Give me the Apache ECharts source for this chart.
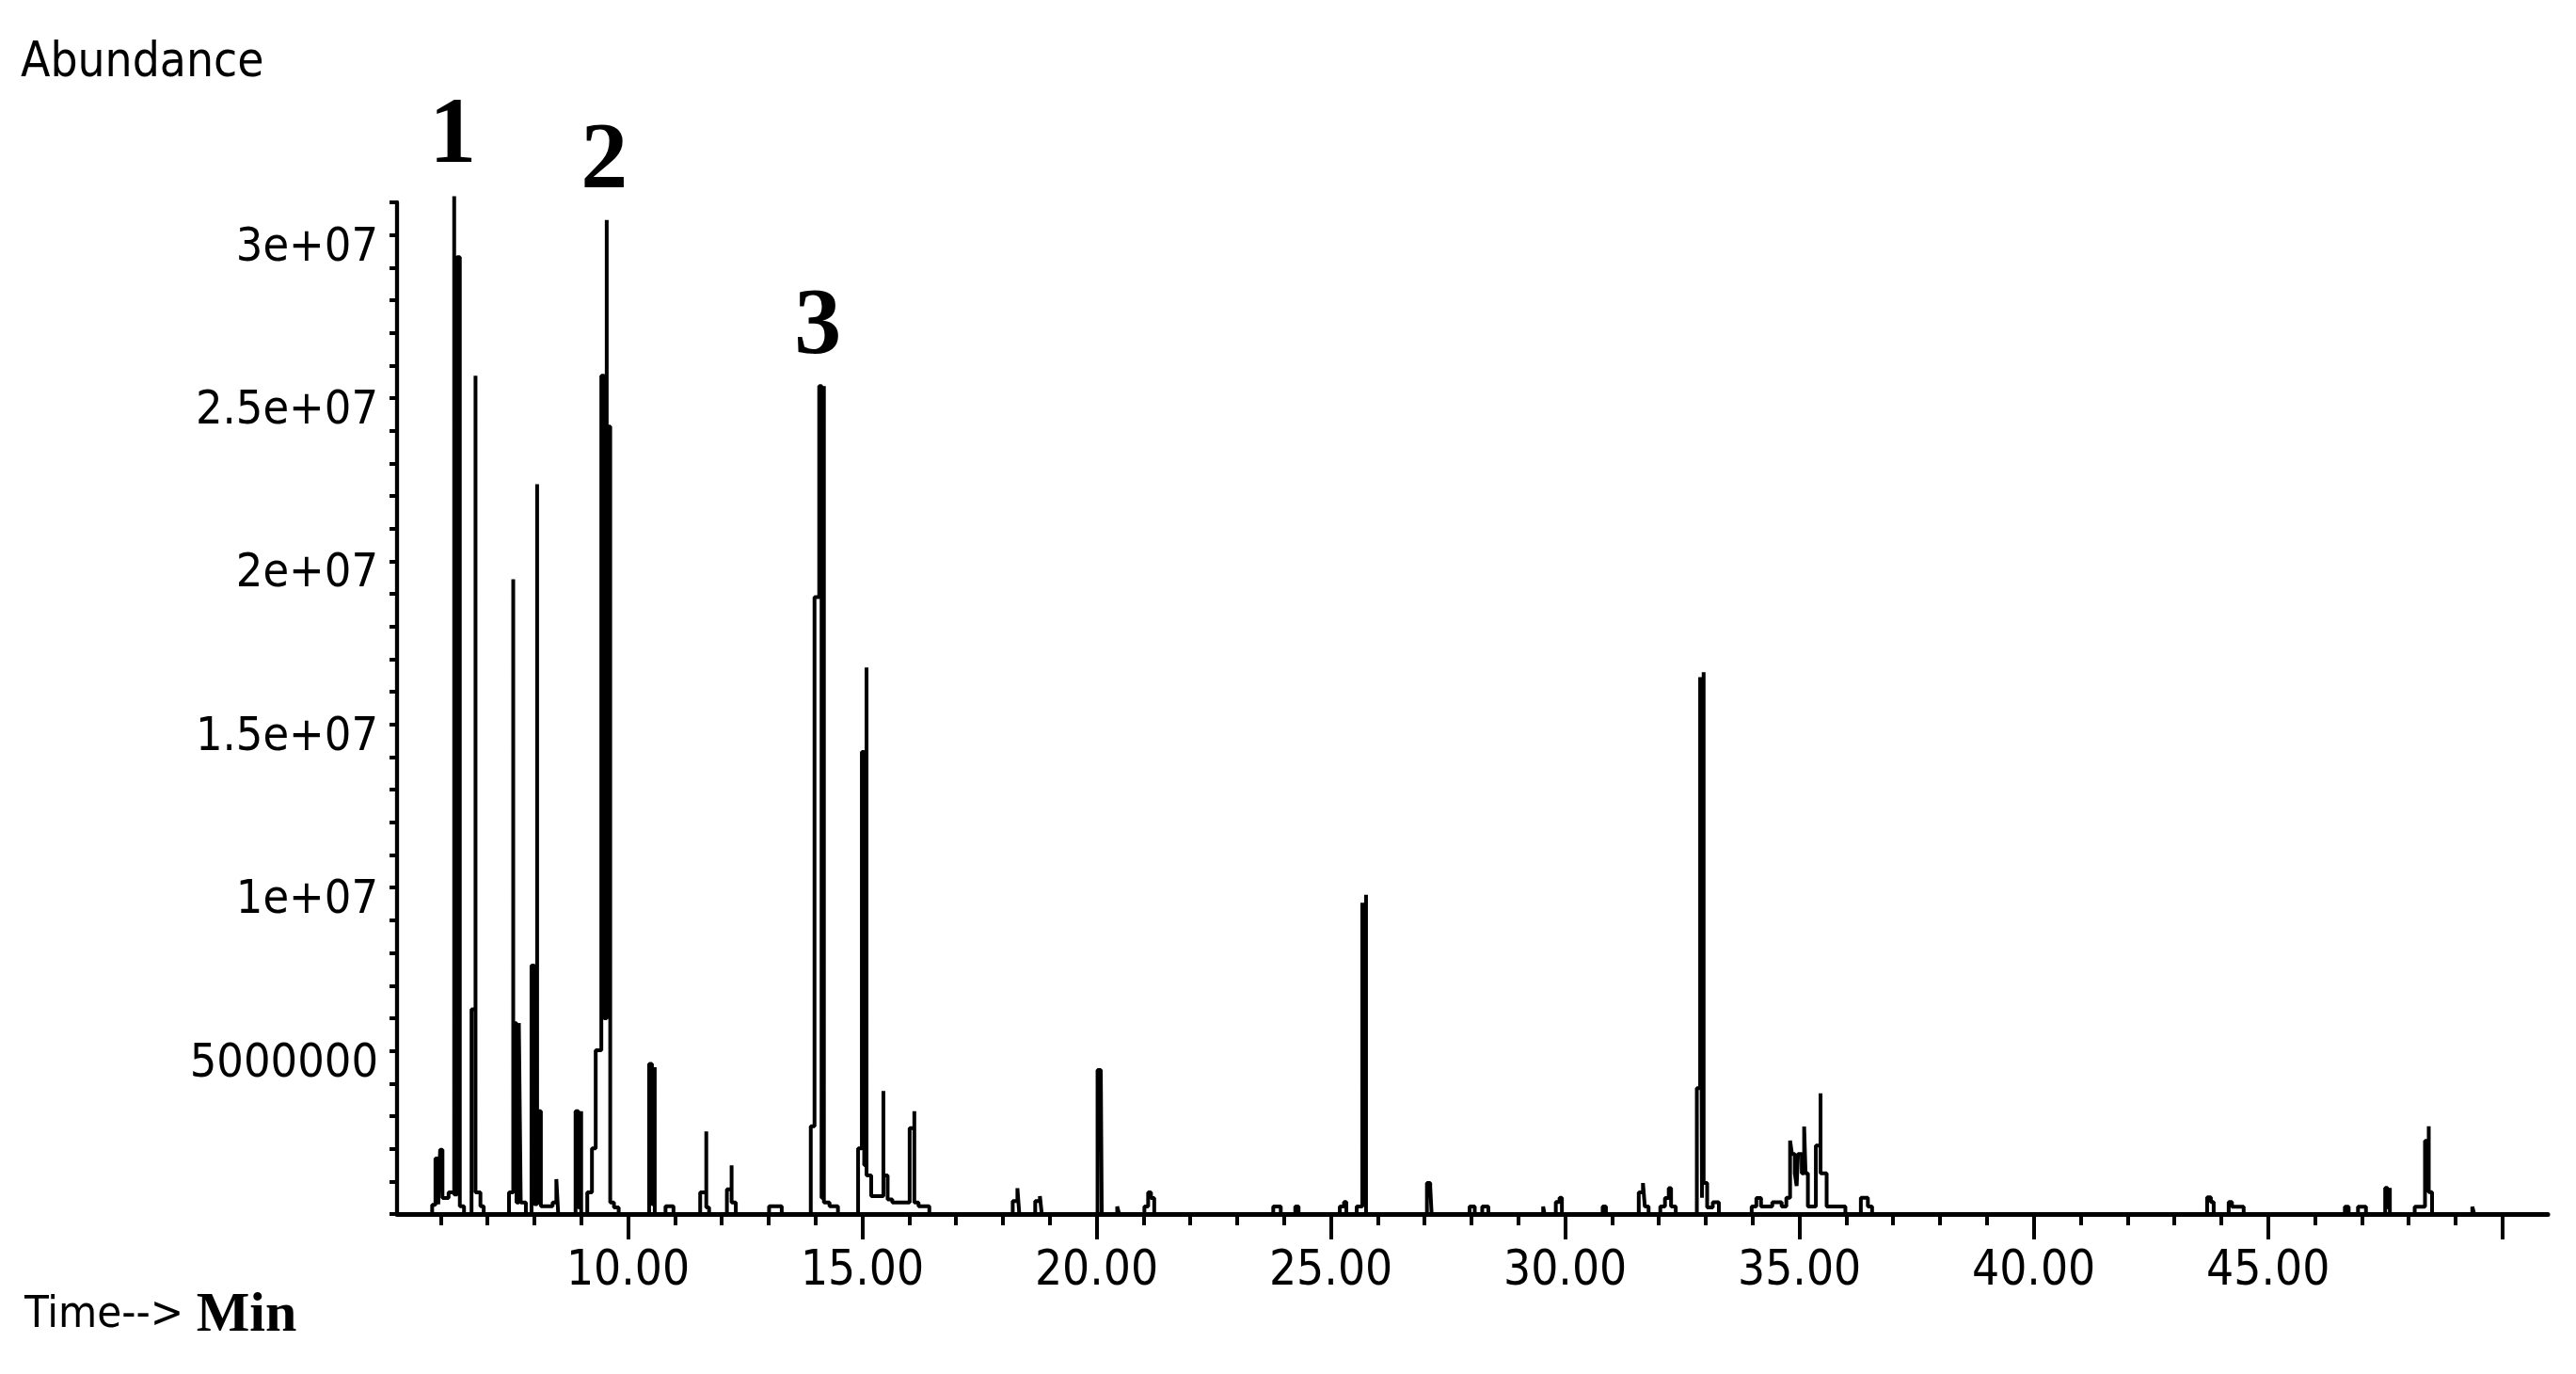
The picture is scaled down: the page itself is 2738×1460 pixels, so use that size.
<!DOCTYPE html>
<html><head><meta charset="utf-8">
<script src="https://cdn.jsdelivr.net/npm/echarts@6/dist/echarts.min.js"></script>
<style>html,body{margin:0;padding:0;background:#fff}#c{width:2738px;height:1460px}</style>
</head><body><div id="c"></div>
<script>
// Abundance values are in millions (UNIT) ; times in minutes
const UNIT = 1e6;
const traceA = [
[5.07,0],[5.82,0],[5.82,0.28],[5.89,0.28],[5.89,1.70],[5.95,1.70],[5.95,0.30],[5.99,0.30],[5.99,1.97],[6.04,1.97],[6.04,0.49],[6.17,0.49],[6.17,0.66],[6.29,0.66],
[6.29,31.19],[6.29,0.60],[6.35,0.60],[6.35,29.32],[6.41,29.32],[6.41,0.24],[6.50,0.24],[6.50,0],
[6.66,0],[6.66,6.27],[6.745,6.27],[6.745,25.69],[6.745,0.66],[6.85,0.66],[6.85,0.24],[6.92,0.24],[6.92,0],
[7.46,0],[7.46,0.66],[7.55,0.66],[7.55,19.45],[7.55,5.85],[7.62,5.85],[7.62,0.35],[7.67,0.35],[7.67,5.85],[7.71,5.85],[7.71,0.35],[7.82,0.35],[7.82,0],
[7.94,0],[7.94,7.61],[8.00,7.61],[8.00,0.30],[8.06,0.30],[8.06,22.36],[8.06,3.15],[8.14,3.15],[8.14,0.24],[8.39,0.24],[8.39,0.35],[8.47,0.35],[8.47,1.07],[8.51,1.07],[8.51,0],
[8.88,0],[8.88,3.15],[8.94,3.15],[8.94,0.20],[9.00,0.20],[9.00,3.15],[9.00,0],
[9.13,0],[9.13,0.66],[9.23,0.66],[9.23,2.01],[9.31,2.01],[9.31,5.02],[9.43,5.02],[9.43,25.69],[9.49,25.69],[9.49,6.00],[9.545,6.00],[9.545,30.46],[9.545,24.13],[9.62,24.13],[9.62,0.35],[9.70,0.35],[9.70,0.20],[9.80,0.20],[9.80,0],
[10.45,0],[10.45,4.60],[10.51,4.60],[10.51,0.30],[10.57,0.30],[10.57,4.50],[10.57,0],
[10.80,0],[10.80,0.24],[10.97,0.24],[10.97,0]
];
const traceB = [
[11.54,0],[11.54,0.66],[11.67,0.66],[11.67,2.53],[11.67,0.20],[11.73,0.20],[11.73,0],
[12.11,0],[12.11,0.76],[12.21,0.76],[12.21,1.49],[12.21,0.35],[12.30,0.35],[12.30,0],
[13.01,0],[13.01,0.24],[13.28,0.24],[13.28,0],
[13.90,0],[13.90,2.69],[13.98,2.69],[13.98,18.90],[14.08,18.90],[14.08,25.37],[14.13,25.37],[14.13,0.50],[14.18,0.50],[14.18,25.37],[14.18,0.35],[14.30,0.35],[14.30,0.24],[14.48,0.24],[14.48,0],
[14.91,0],[14.91,2.01],[14.99,2.01],[14.99,14.16],[15.04,14.16],[15.04,1.50],[15.09,1.50],[15.09,16.75],[15.09,1.18],[15.19,1.18],[15.19,0.55],[15.45,0.55],[15.45,3.77],[15.45,1.18],[15.54,1.18],[15.54,0.45],[15.64,0.45],[15.64,0.35],
[16.01,0.35],[16.01,2.63],[16.11,2.63],[16.11,3.15],[16.11,0.35],[16.20,0.35],[16.20,0.24],[16.43,0.24],[16.43,0]
];
const traceC = [
[18.21,0],[18.21,0.40],[18.31,0.40],[18.31,0.79],[18.35,0.79],[18.35,0],
[18.69,0],[18.69,0.40],[18.79,0.40],[18.79,0.55],[18.83,0.55],[18.83,0],
[20.02,0],[20.02,4.41],[20.09,4.41],[20.09,4.27],[20.11,4.27],[20.11,0],
[20.44,0],[20.44,0.23],[20.48,0.23],[20.48,0],
[21.02,0],[21.02,0.23],[21.10,0.23],[21.10,0.66],[21.16,0.66],[21.16,0.49],[21.23,0.49],[21.23,0],
[23.77,0],[23.77,0.23],[23.93,0.23],[23.93,0],
[24.24,0],[24.24,0.23],[24.31,0.23],[24.31,0],
[25.19,0],[25.19,0.23],[25.28,0.23],[25.28,0.37],[25.33,0.37],[25.33,0],
[25.55,0],[25.55,0.23],[25.67,0.23],[25.67,9.54],[25.71,9.54],[25.71,0.50],[25.75,0.50],[25.75,9.78],[25.75,0],
[27.05,0],[27.05,0.95],[27.12,0.95],[27.12,0.83],[27.15,0.83],[27.15,0],
[27.96,0],[27.96,0.23],[28.07,0.23],[28.07,0],
[28.23,0],[28.23,0.23],[28.36,0.23],[28.36,0],
[29.53,0],[29.53,0.23],[29.56,0.23],[29.56,0],
[29.80,0],[29.80,0.37],[29.88,0.37],[29.88,0.50],[29.93,0.50],[29.93,0],
[30.80,0],[30.80,0.23],[30.87,0.23],[30.87,0]
];
const traceD = [
[31.57,0],[31.57,0.66],[31.66,0.66],[31.66,0.95],[31.70,0.95],[31.70,0.23],[31.78,0.23],[31.78,0],
[32.03,0],[32.03,0.23],[32.13,0.23],[32.13,0.49],[32.21,0.49],[32.21,0.79],[32.26,0.79],[32.26,0.23],[32.36,0.23],[32.36,0],
[32.81,0],[32.81,3.86],[32.88,3.86],[32.88,16.45],[32.92,16.45],[32.92,0.50],[32.955,0.50],[32.955,16.60],[32.955,0.95],[33.03,0.95],[33.03,0.20],[33.15,0.20],[33.15,0.36],[33.28,0.36],[33.28,0],
[33.98,0],[33.98,0.23],[34.08,0.23],[34.08,0.49],[34.18,0.49],[34.18,0.23],[34.42,0.23],[34.42,0.36],[34.62,0.36],[34.62,0.23],[34.72,0.23],[34.72,0.50],[34.80,0.50],[34.80,2.25],[34.84,2.25],[34.84,1.84],[34.90,1.84],[34.90,1.25],[34.94,1.25],[34.94,0.86],[34.97,0.86],[34.97,1.84],[35.05,1.84],[35.05,1.25],[35.10,1.25],[35.10,2.68],[35.13,2.68],[35.13,1.25],[35.18,1.25],[35.18,0.23],
[35.35,0.23],[35.35,2.10],[35.45,2.10],[35.45,3.70],[35.45,1.25],[35.58,1.25],[35.58,0.23],[35.98,0.23],[35.98,0],
[36.31,0],[36.31,0.50],[36.46,0.50],[36.46,0.23],[36.55,0.23],[36.55,0],
[43.70,0],[43.70,0.51],[43.78,0.51],[43.78,0.37],[43.84,0.37],[43.84,0],
[44.16,0],[44.16,0.37],[44.23,0.37],[44.23,0.22],[44.48,0.22],[44.48,0]
];
const traceE = [
[46.64,0],[46.64,0.22],[46.72,0.22],[46.72,0],
[46.92,0],[46.92,0.22],[47.09,0.22],[47.09,0],
[47.50,0],[47.50,0.80],[47.55,0.80],[47.55,0.20],[47.60,0.20],[47.60,0.80],[47.60,0],
[48.13,0],[48.13,0.22],[48.35,0.22],[48.35,2.24],[48.43,2.24],[48.43,2.69],[48.43,0.67],[48.50,0.67],[48.50,0],
[49.36,0],[49.36,0.22],[49.40,0.22],[49.40,0],
[50.97,0]
];
const peakMarks = [[6.26,31.19,'1'],[9.49,30.46,'2'],[14.05,25.37,'3']];
const xMinorTicks = [6,7,8,9,11,12,13,14,16,17,18,19,21,22,23,24,26,27,28,29,31,32,33,34,36,37,38,39,41,42,43,44,46,47,48,49];
const xMajorTicks = [10,15,20,25,30,35,40,45,50];
const xLabelTicks = [10,15,20,25,30,35,40,45];
const X_MIN = 5.07, X_MAX = 50.97;
const Y_MAX = 31e6, Y_STEP = 1e6, Y_LABEL_STEP = 5e6;

const trace = [].concat(traceA, traceB, traceC, traceD, traceE).map(([t, v]) => [t, v * UNIT]);
const NARROW = "'Liberation Sans Narrow', 'DejaVu Sans Condensed', 'Liberation Sans', Arial, sans-serif";
const SERIF = "'Liberation Serif', 'Times New Roman', serif";

const chart = echarts.init(document.getElementById('c'), null, {renderer: 'canvas'});
chart.setOption({
  animation: false,
  backgroundColor: '#fff',
  grid: {left: 422, right: 30, top: 215, bottom: 170, containLabel: false, outerBoundsMode: 'none'},
  xAxis: [
    {type: 'value', min: X_MIN, max: X_MAX, position: 'bottom',
     axisLine: {show: true, onZero: false, lineStyle: {color: '#000', width: 5}},
     axisTick: {show: true, customValues: xMinorTicks, length: 12, lineStyle: {color: '#000', width: 4}},
     axisLabel: {show: false}, splitLine: {show: false}},
    {type: 'value', min: X_MIN, max: X_MAX, position: 'bottom',
     axisLine: {show: false, onZero: false},
     axisTick: {show: true, customValues: xMajorTicks, length: 27, lineStyle: {color: '#000', width: 4}},
     axisLabel: {show: true, customValues: xLabelTicks, formatter: v => Number(v).toFixed(2),
       margin: 36, fontSize: 51, fontFamily: NARROW, color: '#000'},
     splitLine: {show: false}}
  ],
  yAxis: {
    type: 'value', min: 0, max: Y_MAX, interval: Y_STEP,
    axisLine: {show: true, lineStyle: {color: '#000', width: 4.3}},
    axisTick: {show: true, length: 8, lineStyle: {color: '#000', width: 4}},
    axisLabel: {
      margin: 20, color: '#000',
      formatter: v => {
        if (v === 0 || Math.round(v) % Y_LABEL_STEP !== 0) return '';
        return '{l|' + (v < 1e7 ? String(v) : (v / 1e7) + 'e+07') + '}';
      },
      rich: {l: {fontSize: 50, fontFamily: NARROW, color: '#000', padding: [28, 0, 0, 0]}}
    },
    splitLine: {show: false}
  },
  graphic: [
    {type: 'text', left: 22, top: 42, style: {text: 'Abundance', font: "51px " + NARROW, fill: '#000'}},
    {type: 'text', left: 26, top: 1368, style: {
      text: '{a|Time--> }{b|Min}',
      rich: {
        a: {fontFamily: NARROW, fontSize: 47, fill: '#000', color: '#000'},
        b: {fontFamily: SERIF, fontWeight: 'bold', fontSize: 60, fill: '#000', color: '#000'}
      }}}
  ],
  series: [
    {type: 'line', xAxisIndex: 0, yAxisIndex: 0, data: trace, symbol: 'none', showSymbol: false,
     clip: false, lineStyle: {color: '#000', width: 4}, z: 3},
    {type: 'scatter', xAxisIndex: 0, yAxisIndex: 0, clip: false, symbolSize: 0.1,
     itemStyle: {color: '#000', opacity: 1},
     data: peakMarks.map(([t, v, n]) => ({value: [t, v * UNIT], name: n})),
     label: {show: true, position: 'top', distance: 12, formatter: p => p.name,
       fontFamily: SERIF, fontWeight: 'bold', fontSize: 100, color: '#000', opacity: 1,
       textBorderWidth: 0}}
  ]
});
</script></body></html>
